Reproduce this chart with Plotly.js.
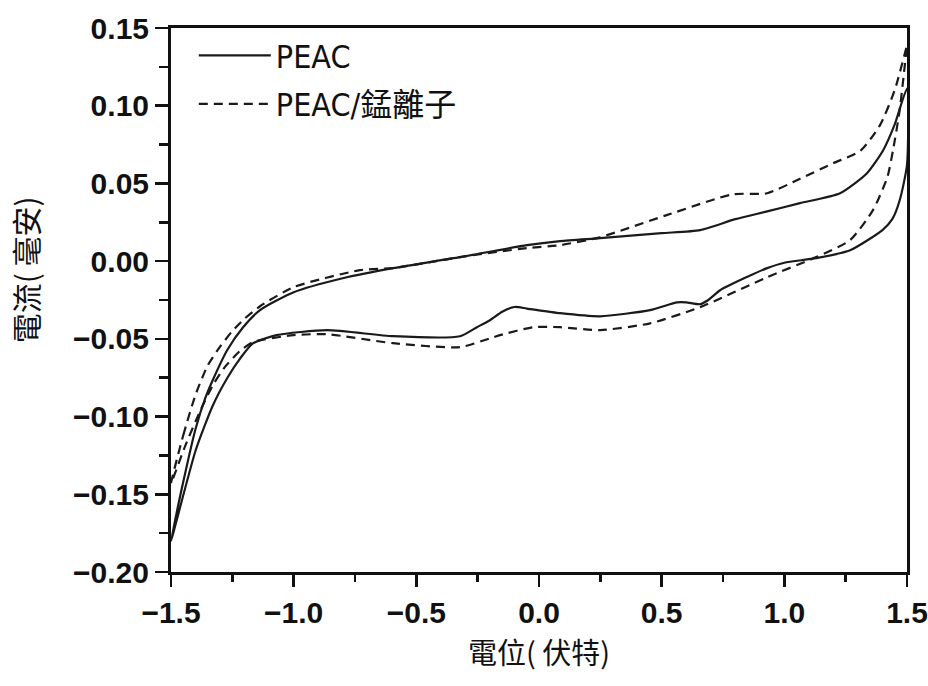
<!DOCTYPE html>
<html>
<head>
<meta charset="utf-8">
<script src="https://cdn.plot.ly/plotly-3.0.1.min.js"></script>
<style>html,body{margin:0;padding:0;background:#fff;}#chart{width:928px;height:686px;}</style>
</head>
<body>
<div id="chart"></div>
<script>
// PEAC (solid): forward branch then reverse branch
const peacX = [-1.5,-1.45,-1.40,-1.36,-1.33,-1.27,-1.206,-1.137,-1.0,-0.8,-0.595,-0.322,-0.049,0.086,0.249,0.5,0.657,0.8,0.93,1.064,1.227,1.337,1.403,1.45,1.5,
  1.5,1.47,1.44,1.40,1.268,1.13,1.0,0.93,0.85,0.738,0.69,0.657,0.6,0.563,0.453,0.249,0.086,-0.05,-0.1,-0.15,-0.2,-0.253,-0.322,-0.595,-0.864,-1.07,-1.165,-1.22,-1.27,-1.33,-1.40,-1.5];
const peacY = [-0.180,-0.142,-0.108,-0.088,-0.0766,-0.057,-0.0425,-0.0315,-0.020,-0.011,-0.0045,0.0026,0.0103,0.0129,0.0148,0.018,0.020,0.027,0.032,0.0373,0.0437,0.0566,0.0714,0.088,0.111,
  0.062,0.039,0.027,0.020,0.007,0.0019,-0.001,-0.0045,-0.010,-0.0187,-0.025,-0.0277,-0.0265,-0.0265,-0.0315,-0.0355,-0.0335,-0.0305,-0.0295,-0.0325,-0.038,-0.0425,-0.0483,-0.0483,-0.0444,-0.0476,-0.0528,-0.063,-0.075,-0.093,-0.122,-0.180];

// PEAC/錳離子 (dashed)
const mnX = [-1.5,-1.45,-1.40,-1.35,-1.30,-1.25,-1.20,-1.137,-1.0,-0.73,-0.595,-0.322,-0.049,0.086,0.249,0.52,0.79,0.93,1.064,1.199,1.31,1.39,1.45,1.5,
  1.5,1.47,1.443,1.42,1.362,1.268,1.13,0.93,0.657,0.453,0.249,0.086,-0.024,-0.159,-0.187,-0.322,-0.595,-0.864,-1.0,-1.165,-1.22,-1.28,-1.33,-1.38,-1.44,-1.5];
const mnY = [-0.143,-0.112,-0.086,-0.067,-0.055,-0.045,-0.037,-0.029,-0.0167,-0.0058,-0.0045,0.0026,0.0084,0.0103,0.0154,0.0296,0.043,0.0437,0.053,0.063,0.071,0.0875,0.110,0.139,
  0.139,0.097,0.0714,0.054,0.033,0.0135,0.0026,-0.0103,-0.0296,-0.040,-0.0444,-0.0425,-0.0425,-0.0476,-0.049,-0.0553,-0.0528,-0.047,-0.0476,-0.052,-0.058,-0.068,-0.080,-0.096,-0.118,-0.143];

const seriesNames = ['PEAC', 'PEAC/錳離子'];
const xTickVals = [-1.5,-1.0,-0.5,0.0,0.5,1.0,1.5];
const xTickText = ['\u22121.5','\u22121.0','\u22120.5','0.0','0.5','1.0','1.5'];
const yTickVals = [-0.20,-0.15,-0.10,-0.05,0.00,0.05,0.10,0.15];
const yTickText = ['\u22120.20','\u22120.15','\u22120.10','\u22120.05','0.00','0.05','0.10','0.15'];

const traces = [
  {x: peacX, y: peacY, name: seriesNames[0], legendgroup: 'a', mode: 'lines',
   line: {color: '#1a1a1a', width: 2.2, shape: 'spline', smoothing: 0.6}},
  {x: mnX, y: mnY, name: seriesNames[1], legendgroup: 'b', mode: 'lines',
   line: {color: '#1a1a1a', width: 2.2, dash: '9px,6px', shape: 'spline', smoothing: 0.6}}
];

const tickFont = {family: 'Liberation Sans, Arial, sans-serif', size: 30, color: '#111', weight: 'bold'};
const layout = {
  width: 928, height: 686,
  margin: {l: 171, r: 21, t: 28, b: 114},
  paper_bgcolor: '#fff', plot_bgcolor: '#fff',
  showlegend: true,
  legend: {x: 0.031, y: 1.0, xanchor: 'left', yanchor: 'top', bgcolor: 'rgba(0,0,0,0)',
    font: {family: 'DejaVu Sans Condensed, Noto Sans CJK TC, sans-serif', size: 32, color: '#111'},
    itemwidth: 72, tracegroupgap: 4},
  xaxis: {range: [-1.5, 1.5], tickmode: 'array', tickvals: xTickVals, ticktext: xTickText,
    ticks: 'outside', ticklen: 12, tickwidth: 2.5, tickcolor: '#111', ticklabeloverflow: 'allow',
    minor: {dtick: 0.25, ticks: 'outside', ticklen: 7, tickwidth: 2.5, tickcolor: '#111'},
    showline: true, linecolor: '#111', linewidth: 3, mirror: true, showgrid: false, zeroline: false,
    tickfont: tickFont,
    title: {text: '電位( 伏特)', font: {family: 'Noto Sans CJK TC, sans-serif', size: 29, color: '#111'}, standoff: 16}},
  yaxis: {range: [-0.20, 0.15], tickmode: 'array', tickvals: yTickVals, ticktext: yTickText,
    ticks: 'outside', ticklen: 13, tickwidth: 2.5, tickcolor: '#111', ticklabeloverflow: 'allow',
    minor: {dtick: 0.025, ticks: 'outside', ticklen: 9, tickwidth: 2.5, tickcolor: '#111'},
    showline: true, linecolor: '#111', linewidth: 3, mirror: true, showgrid: false, zeroline: false,
    tickfont: tickFont},
  annotations: [{text: '電流( 毫安)', xref: 'paper', yref: 'paper', x: -0.198, y: 0.555,
    xanchor: 'center', yanchor: 'middle', textangle: -90, showarrow: false,
    font: {family: 'Noto Sans CJK TC, sans-serif', size: 30, color: '#111'}}]
};

Plotly.newPlot('chart', traces, layout, {staticPlot: true, displayModeBar: false});
</script>
</body>
</html>
